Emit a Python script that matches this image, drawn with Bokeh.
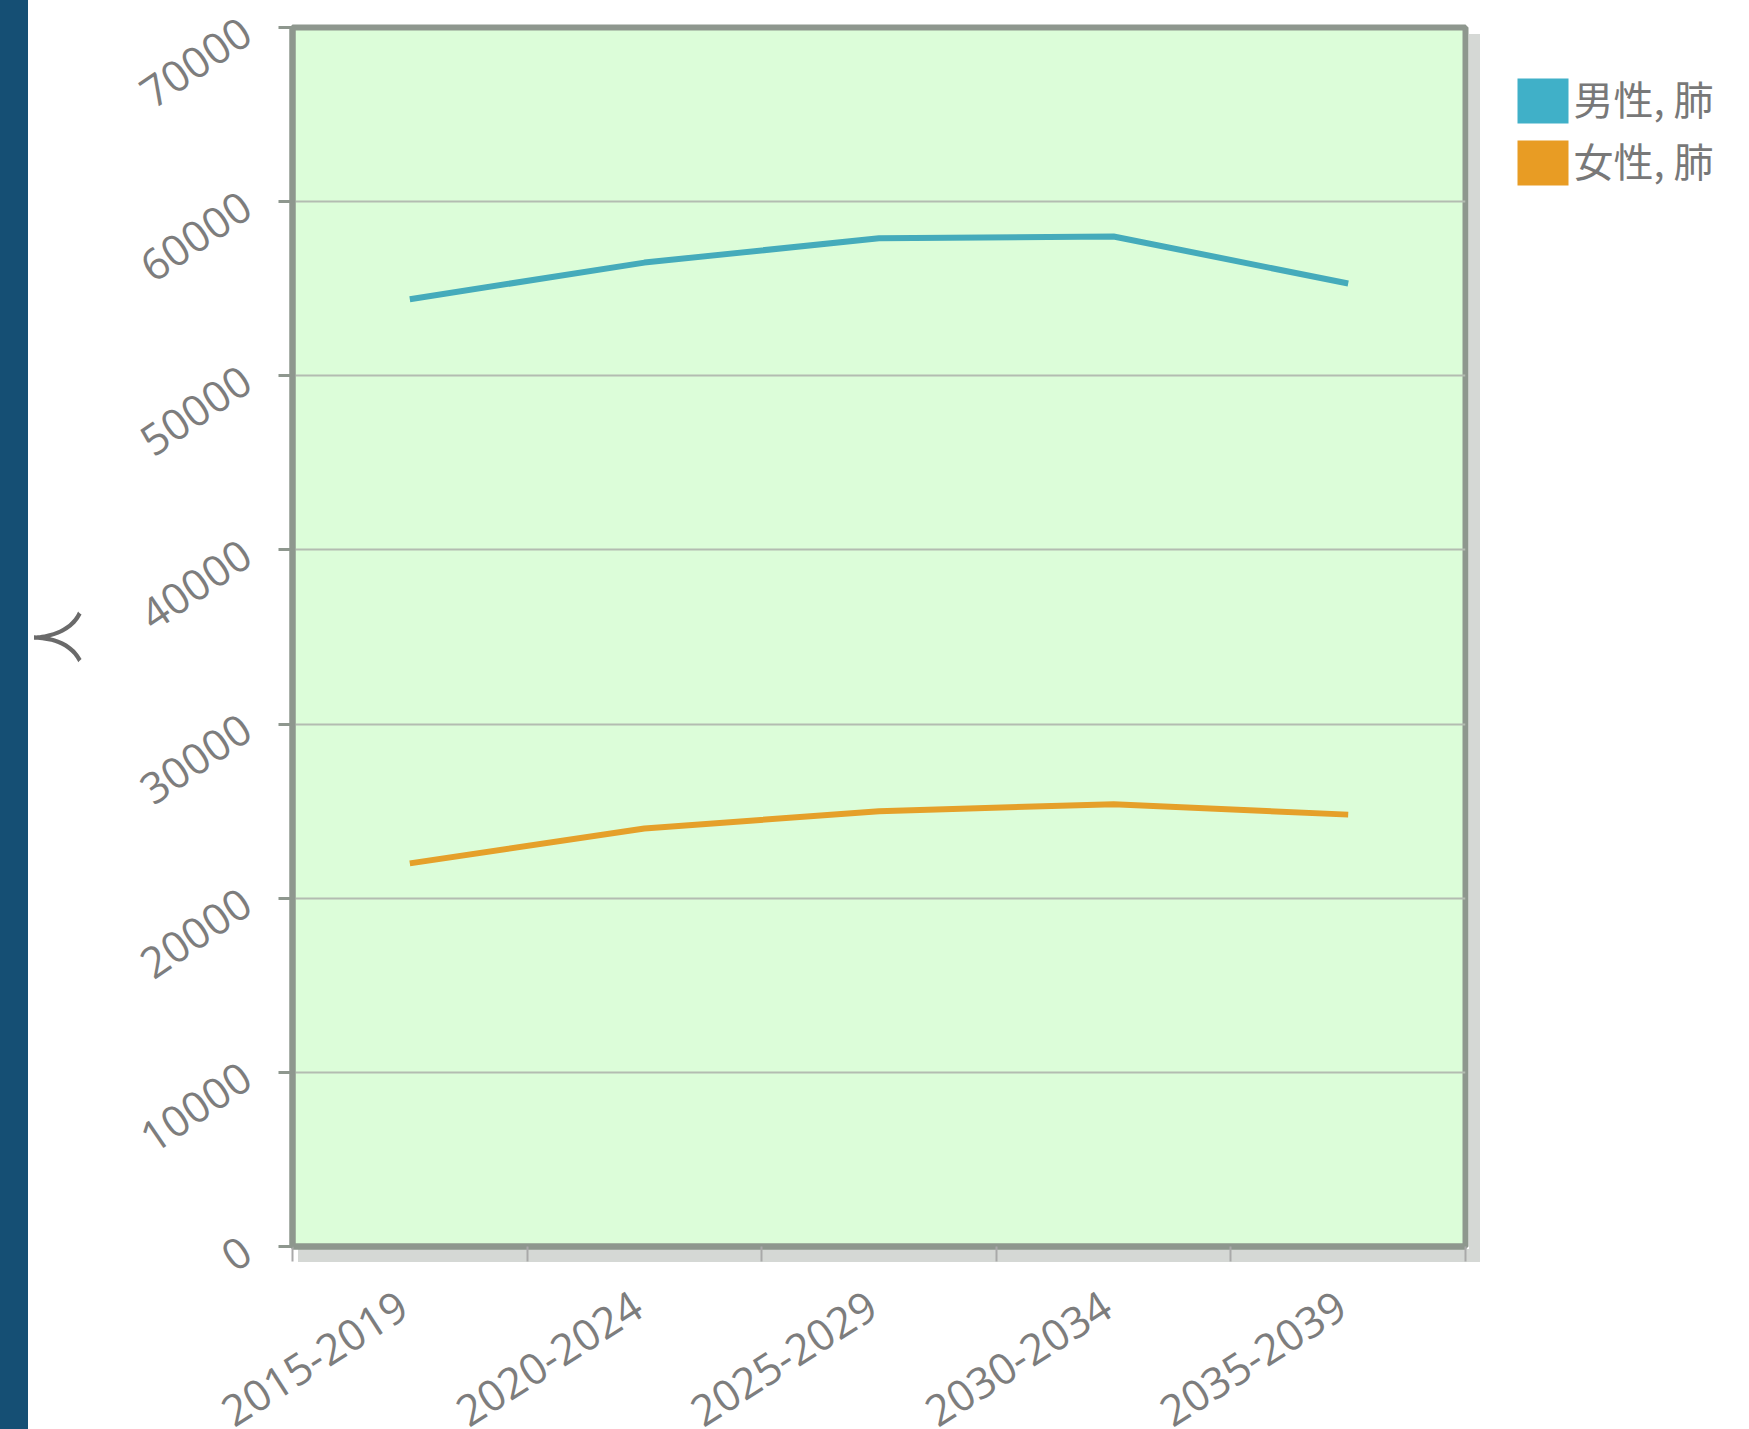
from bokeh.plotting import figure
from bokeh.models import FixedTicker, Range1d
from bokeh.layouts import row, column
from bokeh.core.properties import value
from bokeh.embed import file_html
from bokeh.resources import INLINE

periods = ["2015-2019", "2020-2024", "2025-2029", "2030-2034", "2035-2039"]
male_lung = [54400, 56500, 57900, 58000, 55300]
female_lung = [22000, 24000, 25000, 25400, 24800]
series_names = ["男性, 肺", "女性, 肺"]
series_colors = ["#45abbb", "#e5a02a"]
swatch_colors = ["#40b0c8", "#e89c24"]
y_ticks = [0, 10000, 20000, 30000, 40000, 50000, 60000, 70000]
y_title = "人"

x_pos = [i + 0.5 for i in range(len(periods))]
boundaries = list(range(len(periods) + 1))

GRAY = "#8e978e"
SHADOW = "#d5d8d5"
PAGE_W, PAGE_H = 1749, 1429
F_LEFT, F_RIGHT, F_TOP, F_BOTTOM = 292, 1465, 27, 1246
MAIN_W = 1490
MAIN_H = 1286
BAR_BG = "linear-gradient(to right, #154f74 0px, #154f74 28px, #ffffff 28px, #ffffff 100%)"

bg = ", ".join([
    f"linear-gradient({SHADOW}, {SHADOW}) 1469px 34px / 11px 1228px no-repeat",
    f"linear-gradient({SHADOW}, {SHADOW}) 298px 1249px / 1182px 13px no-repeat",
    BAR_BG,
])

p = figure(title=None, output_backend="svg", toolbar_location=None,
           frame_width=F_RIGHT - F_LEFT, frame_height=F_BOTTOM - F_TOP,
           x_range=Range1d(0, len(periods)), y_range=Range1d(0, 70000),
           min_border_left=F_LEFT, min_border_right=MAIN_W - F_RIGHT,
           min_border_top=F_TOP, min_border_bottom=MAIN_H - F_BOTTOM)
p.frame_align = False
p.styles = {"background": bg}
p.background_fill_color = "#dcfdd9"
p.border_fill_color = None
p.outline_line_color = GRAY
p.outline_line_width = 6

p.xgrid.visible = False
p.ygrid.ticker = FixedTicker(ticks=y_ticks)
p.ygrid.grid_line_color = "#b3bcb1"
p.ygrid.grid_line_width = 2

ya = p.yaxis[0]
ya.ticker = FixedTicker(ticks=y_ticks)
ya.major_label_orientation = 0.6
ya.major_label_text_font = "Open Sans"
ya.major_label_text_font_size = "43px"
ya.major_label_text_color = "#7d7d7d"
ya.major_label_standoff = 32
ya.axis_line_color = GRAY
ya.axis_line_width = 6
ya.major_tick_out = 14
ya.major_tick_in = 0
ya.major_tick_line_color = GRAY
ya.major_tick_line_width = 3
ya.minor_tick_line_color = None
ya.axis_label = y_title
ya.axis_label_text_font = "Noto Sans CJK JP"
ya.axis_label_text_font_size = "54px"
ya.axis_label_text_font_style = "normal"
ya.axis_label_text_color = "#6a6a6a"
ya.axis_label_standoff = 31

xa = p.xaxis[0]
xa.ticker = FixedTicker(ticks=x_pos, minor_ticks=boundaries)
xa.major_label_text_font_size = "0px"
xa.major_label_text_color = None
xa.major_label_standoff = 0
xa.major_tick_line_color = None
xa.minor_tick_out = 15
xa.minor_tick_in = 0
xa.minor_tick_line_color = "#a9a9a9"
xa.minor_tick_line_width = 2
xa.axis_line_color = GRAY
xa.axis_line_width = 6

p.line(x_pos, male_lung, line_color=series_colors[0], line_width=6)
p.line(x_pos, female_lung, line_color=series_colors[1], line_width=6)

# category labels strip below the chart, on the same x scale as the chart
ppu = (F_RIGHT - F_LEFT) / len(periods)
xl = figure(title=None, output_backend="svg", toolbar_location=None,
            frame_width=MAIN_W, frame_height=PAGE_H - MAIN_H,
            x_range=Range1d(-F_LEFT / ppu, len(periods) + (MAIN_W - F_RIGHT) / ppu),
            y_range=Range1d(PAGE_H - MAIN_H, 0),
            x_axis_location=None, y_axis_location=None,
            min_border_left=0, min_border_right=0, min_border_top=0, min_border_bottom=0)
xl.frame_align = False
xl.styles = {"background": BAR_BG}
xl.grid.visible = False
xl.outline_line_color = None
xl.background_fill_color = None
xl.border_fill_color = None
xl.text(x=x_pos, y=[2] * len(periods), text=periods,
        text_font=value("Open Sans"), text_font_size="43px", text_color="#7d7d7d",
        text_align="right", text_baseline="top", angle=0.57, x_offset=-15)

# legend panel drawn in page-pixel coordinates
LEG_W = PAGE_W - MAIN_W
lg = figure(title=None, output_backend="svg", toolbar_location=None,
            frame_width=LEG_W, frame_height=PAGE_H,
            x_range=Range1d(MAIN_W, PAGE_W), y_range=Range1d(PAGE_H, 0),
            x_axis_location=None, y_axis_location=None,
            min_border_left=0, min_border_right=0, min_border_top=0, min_border_bottom=0)
lg.frame_align = False
lg.grid.visible = False
lg.outline_line_color = None
lg.background_fill_color = "white"
lg.border_fill_color = "white"

sw_left, sw_w, sw_h, sw_top, pitch = 1517, 51, 45, 78, 62
n = len(series_names)
tops = [sw_top + i * pitch for i in range(n)]
lg.quad(left=[sw_left] * n, right=[sw_left + sw_w] * n,
        top=tops, bottom=[t + sw_h for t in tops],
        fill_color=swatch_colors, line_color=None)
lg.text(x=[sw_left + sw_w + 5] * n, y=[t + 19 for t in tops], text=series_names,
        text_font=value("Noto Sans CJK JP"), text_font_size="40px",
        text_color="#787878", text_baseline="middle", text_align="left")

layout = row(column(p, xl), lg)
open("out.html", "w").write(file_html(layout, INLINE))
